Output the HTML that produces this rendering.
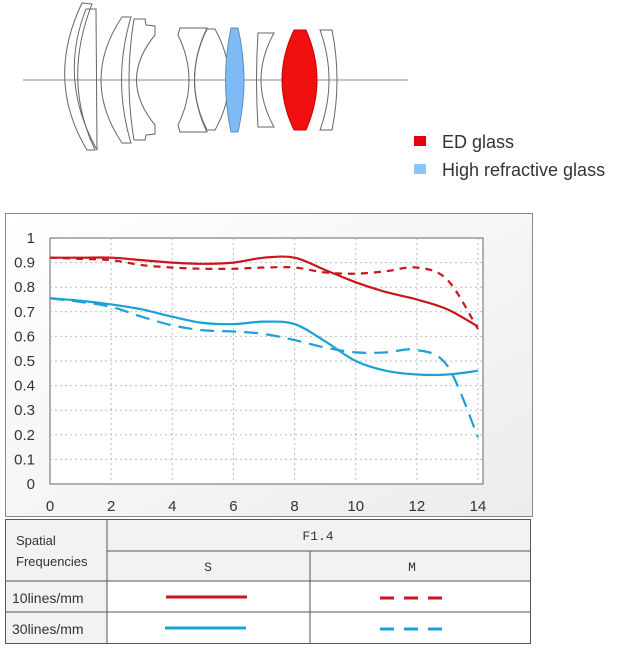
<!DOCTYPE html>
<html><head><meta charset="utf-8"><style>
body{margin:0;background:#fff;width:632px;height:648px;overflow:hidden;font-family:"Liberation Sans",sans-serif}
svg{position:absolute;left:0;top:0}
</style></head><body>
<svg width="632" height="648" viewBox="0 0 632 648" xmlns="http://www.w3.org/2000/svg">
<defs>
<linearGradient id="bg" x1="0" y1="0" x2="1" y2="1"><stop offset="0" stop-color="#fff"/><stop offset="1" stop-color="#ececec"/></linearGradient>
</defs>
<g fill="none" stroke="#666" stroke-width="1">
<line x1="23" y1="80" x2="408" y2="80" stroke="#888"/>
<path d="M82,3 L92,4 Q62,80 95,150 L87,150 Q45,80 82,3Z"/>
<path d="M86,9 L96,9 L97,150 Q58,80 86,9Z"/>
<path d="M122,17 L131,17 Q112,80 131,143 L122,143 Q80,80 122,17Z"/>
<path d="M134,19 L145,19 L146,25 L155,26 L155,35 Q118,80 155,125 L155,134 L146,135 L145,140 L134,140 Q124,80 134,19Z"/>
<path d="M180,28 L207,28 Q182,80 207,132 L180,132 L178,125 Q200,80 178,35Z"/>
<path d="M207,29 L215,29 Q243,80 215,130 L207,130 Q182,80 207,29Z"/>
<path d="M231,28 L238,28 Q250,80 238,132 L231,132 Q220,80 231,28Z" fill="#7fbaf5" stroke="#5a8fc0"/>
<path d="M258,33 L274,33 Q248,80 274,127 L258,127 Q255,80 258,33Z"/>
<path d="M294,30 L306,30 Q328,80 306,130 L294,130 Q270,80 294,30Z" fill="#f01010" stroke="#c00"/>
<path d="M320,30 L332,30 Q342,80 332,130 L320,130 Q338,80 320,30Z"/>
</g>
<rect x="414" y="136" width="12" height="10" fill="#e60012"/>
<text x="442" y="148" font-size="18" fill="#333">ED glass</text>
<rect x="414" y="164" width="12" height="10" fill="#8cc4f2"/>
<text x="442" y="176" font-size="18" fill="#333">High refractive glass</text>

<rect x="5.5" y="213.5" width="527" height="303" fill="url(#bg)" stroke="#888"/>
<rect x="50" y="238" width="433" height="246" fill="#fff" stroke="#666"/>
<g id="grid"></g>
<g id="ticks" font-size="15" fill="#333"></g>
<g id="lines" fill="none" stroke-width="2.2"></g>

<g stroke="#555" fill="none">
<rect x="5.5" y="519.5" width="525" height="124" fill="#f2f2f2"/>
<rect x="107" y="581" width="423" height="62" fill="#fff" stroke="none"/>
<rect x="6" y="581" width="101" height="62" fill="#f2f2f2" stroke="none"/>
<line x1="107" y1="519" x2="107" y2="643"/>
<line x1="107" y1="551" x2="530" y2="551"/>
<line x1="310" y1="551" x2="310" y2="643"/>
<line x1="5" y1="581" x2="530" y2="581"/>
<line x1="5" y1="612" x2="530" y2="612"/>
</g>
<g font-size="13" fill="#333">
<text x="16" y="545">Spatial</text>
<text x="16" y="566">Frequencies</text>
<text x="12" y="603" font-size="14">10lines/mm</text>
<text x="12" y="634" font-size="14">30lines/mm</text>
<text x="318" y="540" font-family="Liberation Mono,monospace" text-anchor="middle">F1.4</text>
<text x="208" y="571" font-family="Liberation Mono,monospace" text-anchor="middle">S</text>
<text x="412" y="571" font-family="Liberation Mono,monospace" text-anchor="middle">M</text>
</g>
<line x1="166" y1="597" x2="247" y2="597" stroke="#c8161d" stroke-width="3"/>
<line x1="380" y1="598" x2="447" y2="598" stroke="#c8161d" stroke-width="3" stroke-dasharray="14,10"/>
<line x1="165" y1="628" x2="246" y2="628" stroke="#1ba1d6" stroke-width="3"/>
<line x1="380" y1="629" x2="447" y2="629" stroke="#1ba1d6" stroke-width="3" stroke-dasharray="14,10"/>
</svg>
<script>
const xs=[0,1,2,3,4,5,6,7,8,9,10,11,12,13,14];
const s10=[0.92,0.92,0.92,0.91,0.90,0.895,0.90,0.92,0.92,0.87,0.82,0.78,0.75,0.71,0.64];
const m10=[0.92,0.915,0.91,0.89,0.88,0.875,0.875,0.88,0.88,0.86,0.855,0.865,0.88,0.83,0.63];
const s30=[0.755,0.745,0.73,0.71,0.68,0.655,0.65,0.66,0.65,0.58,0.50,0.46,0.445,0.445,0.46];
const m30=[0.755,0.74,0.72,0.68,0.645,0.625,0.62,0.61,0.585,0.555,0.535,0.535,0.545,0.48,0.19];
const xTicks=[0,2,4,6,8,10,12,14];
const yTicks=[0,0.1,0.2,0.3,0.4,0.5,0.6,0.7,0.8,0.9,1];
const NS='http://www.w3.org/2000/svg';
const X=v=>50+v*(478-50)/14;
const Y=v=>484-v*246;
const grid=document.getElementById('grid'),ticks=document.getElementById('ticks'),lines=document.getElementById('lines');
function mk(t,a,p){const e=document.createElementNS(NS,t);for(const k in a)e.setAttribute(k,a[k]);p.appendChild(e);return e;}
xTicks.forEach(v=>{
 if(v>0){const l=mk('line',{x1:X(v),x2:X(v),y1:238,y2:484,stroke:'#bbb','stroke-dasharray':'2,3'},grid);
 
 }
 const t=mk('text',{x:X(v),y:511,'text-anchor':'middle'},ticks);t.textContent=v;
 
 
});
yTicks.forEach(v=>{
 if(v>0&&v<1){const l=mk('line',{x1:50,x2:483,y1:Y(v),y2:Y(v),stroke:'#bbb','stroke-dasharray':'2,3'},grid);
 
 }
 const t=mk('text',{x:35,y:Y(v)+5,'text-anchor':'end'},ticks);t.textContent=v;
 
 
});
function path(ys){const p=xs.map((x,i)=>[X(x),Y(ys[i])]);let d='M'+p[0][0]+','+p[0][1];
 for(let i=0;i<p.length-1;i++){const p0=p[Math.max(0,i-1)],p1=p[i],p2=p[i+1],p3=p[Math.min(p.length-1,i+2)];
 d+=` C${p1[0]+(p2[0]-p0[0])/6},${p1[1]+(p2[1]-p0[1])/6} ${p2[0]-(p3[0]-p1[0])/6},${p2[1]-(p3[1]-p1[1])/6} ${p2[0]},${p2[1]}`;}return d;}
[[s10,'#c8161d',null,'series-10lines-s'],[m10,'#c8161d','7,6','series-10lines-m'],[s30,'#1ba1d6',null,'series-30lines-s'],[m30,'#1ba1d6','14,8','series-30lines-m']].forEach(s=>{
 const e=mk('path',{d:path(s[0]),stroke:s[1]},lines);if(s[2])e.setAttribute('stroke-dasharray',s[2]);
 
 
});
</script>
</body></html>
